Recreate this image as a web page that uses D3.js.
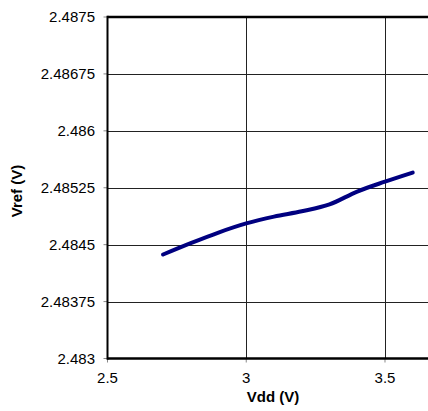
<!DOCTYPE html>
<html>
<head>
<meta charset="utf-8">
<script src="https://cdn.jsdelivr.net/npm/d3@7"></script>
<style>
  html, body { margin: 0; padding: 0; background: #fff; }
  svg { display: block; font-family: "Liberation Sans", Arial, sans-serif; }
</style>
</head>
<body>
<svg id="chart" width="428" height="411"></svg>
<script>
// Data
const vdd = [2.7, 2.8, 2.9, 3.0, 3.1, 3.2, 3.3, 3.4, 3.5, 3.6];
const vref = [2.48437, 2.48452, 2.48466, 2.48478, 2.48487, 2.48494, 2.48503, 2.48520, 2.48533, 2.48545];
const xTicks = [2.5, 3, 3.5];
const xTickLabels = ["2.5", "3", "3.5"];
const yTicks = [2.483, 2.48375, 2.4845, 2.48525, 2.486, 2.48675, 2.4875];
const yTickLabels = ["2.483", "2.48375", "2.4845", "2.48525", "2.486", "2.48675", "2.4875"];
const xTitle = "Vdd (V)";
const yTitle = "Vref (V)";

const svg = d3.select("#chart");
const pLeft = 107.5, pRight = 428, pTop = 17, pBottom = 358.5;

const x = d3.scaleLinear().domain([2.5, 3.655]).range([pLeft, pRight]);
const y = d3.scaleLinear().domain([2.483, 2.4875]).range([pBottom, pTop]);

// horizontal gridlines
svg.append("g").selectAll("line").data(yTicks.slice(1, -1)).join("line")
  .attr("x1", pLeft).attr("x2", pRight)
  .attr("y1", d => Math.round(y(d)) + 0.5).attr("y2", d => Math.round(y(d)) + 0.5)
  .attr("stroke", "#222").attr("stroke-width", 1);

// vertical gridlines
svg.append("g").selectAll("line").data(xTicks.slice(1)).join("line")
  .attr("x1", d => Math.round(x(d)) + 0.5).attr("x2", d => Math.round(x(d)) + 0.5)
  .attr("y1", pTop).attr("y2", pBottom)
  .attr("stroke", "#222").attr("stroke-width", 1);

// y tick marks and labels
svg.append("g").selectAll("line").data(yTicks).join("line")
  .attr("x1", pLeft - 4).attr("x2", pLeft)
  .attr("y1", d => y(d)).attr("y2", d => y(d))
  .attr("stroke", "#888").attr("stroke-width", 1);
svg.append("g").selectAll("text").data(yTicks).join("text")
  .attr("x", 95).attr("y", d => y(d) + 5)
  .attr("text-anchor", "end").attr("font-size", 15).attr("fill", "#000")
  .text((d, i) => yTickLabels[i]);

// x tick marks and labels
svg.append("g").selectAll("line").data(xTicks).join("line")
  .attr("x1", d => x(d)).attr("x2", d => x(d))
  .attr("y1", pBottom).attr("y2", pBottom + 4)
  .attr("stroke", "#888").attr("stroke-width", 1);
svg.append("g").selectAll("text").data(xTicks).join("text")
  .attr("x", d => x(d)).attr("y", 383)
  .attr("text-anchor", "middle").attr("font-size", 15).attr("fill", "#000")
  .text((d, i) => xTickLabels[i]);

// axes / border
svg.append("line").attr("x1", pLeft).attr("x2", pRight).attr("y1", pTop).attr("y2", pTop)
  .attr("stroke", "#000").attr("stroke-width", 2.7);
svg.append("line").attr("x1", pLeft).attr("x2", pRight).attr("y1", pBottom).attr("y2", pBottom)
  .attr("stroke", "#000").attr("stroke-width", 2.7);
svg.append("line").attr("x1", pLeft).attr("x2", pLeft).attr("y1", pTop - 1.3).attr("y2", pBottom + 1.3)
  .attr("stroke", "#000").attr("stroke-width", 2);

// data line
const line = d3.line().x((d, i) => x(vdd[i])).y(d => y(d)).curve(d3.curveMonotoneX);
svg.append("path").datum(vref)
  .attr("d", line)
  .attr("fill", "none").attr("stroke", "#000080").attr("stroke-width", 4)
  .attr("stroke-linecap", "round").attr("stroke-linejoin", "round");

// titles
svg.append("text").attr("x", 273).attr("y", 402)
  .attr("text-anchor", "middle").attr("font-size", 15).attr("font-weight", "bold").attr("fill", "#000")
  .text(xTitle);
svg.append("text").attr("transform", "translate(22,191) rotate(-90)")
  .attr("text-anchor", "middle").attr("font-size", 15).attr("font-weight", "bold").attr("fill", "#000")
  .text(yTitle);
</script>
</body>
</html>
